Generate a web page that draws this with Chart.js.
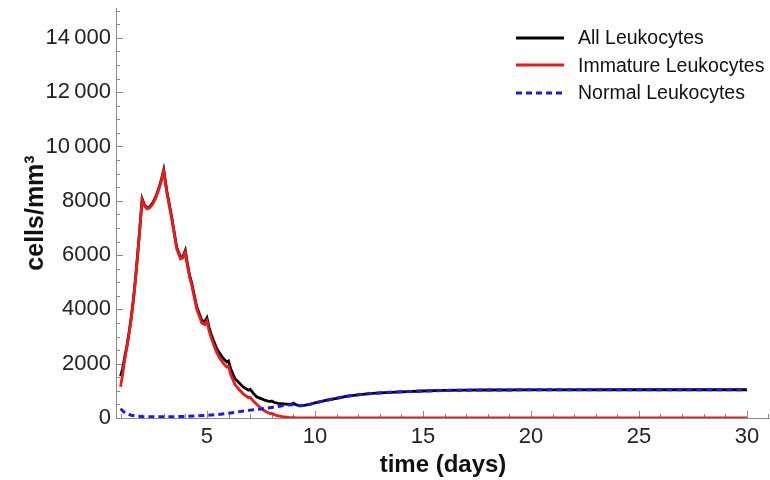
<!DOCTYPE html>
<html>
<head>
<meta charset="utf-8">
<title>Leukocytes</title>
<script src="https://cdn.jsdelivr.net/npm/chart.js@4.4.1/dist/chart.umd.min.js"></script>
<style>
  html, body { margin: 0; padding: 0; background: #fff; }
  #wrap { position: relative; width: 770px; height: 480px; }
  #legend { position: absolute; left: 516px; top: 24px; font: 19.5px "Liberation Sans", Arial, sans-serif; color: #111; }
  #legend .row { display: flex; align-items: center; height: 27.5px; }
  #legend svg { margin-right: 14px; }
</style>
</head>
<body>
<div id="wrap">
  <canvas id="grafico" width="770" height="480"></canvas>
  <div id="legend"></div>
</div>
<script>
// ── datos ───────────────────────────────────────────────
const allDays  = [1.0, 1.1, 1.2, 1.3, 1.4, 1.5, 1.6, 1.7, 1.8, 1.9, 2.0,
                  2.1, 2.23, 2.35, 2.5, 2.65, 2.8, 2.9, 3.0,
                  3.14, 3.37, 3.6, 3.78, 3.9, 4.0,
                  4.1, 4.2, 4.3, 4.53, 4.76, 4.9, 5.0,
                  5.1, 5.2, 5.3, 5.45, 5.6, 5.75, 5.92, 6.0,
                  6.1, 6.3, 6.5, 6.68, 6.92, 7.0,
                  7.15, 7.3, 7.5, 7.7, 7.92, 8.0,
                  8.1, 8.3, 8.6, 8.9, 9.0, 9.1, 9.3]
const allCells = [1540, 1820, 2270, 2680, 3180, 3740, 4400, 5200, 6110, 7070, 8070,
                  7860, 7740, 7780, 7930, 8180, 8530, 8810, 9140,
                  8370, 7390, 6290, 5910, 5960, 6170,
                  5660, 5250, 4950, 4090, 3600, 3550, 3690,
                  3330, 3080, 2860, 2570, 2370, 2200, 2060, 2100,
                  1810, 1450, 1290, 1145, 1025, 1055,
                  905, 780, 715, 645, 605, 625,
                  580, 540, 515, 505, 545, 495, 450]

const immDays  = [1.0, 1.1, 1.2, 1.3, 1.4, 1.5, 1.6, 1.7, 1.8, 1.9, 2.0,
                  2.1, 2.23, 2.35, 2.5, 2.65, 2.8, 2.9, 3.0,
                  3.14, 3.37, 3.6, 3.78, 3.9, 4.0,
                  4.1, 4.2, 4.3, 4.53, 4.76, 4.9, 5.0,
                  5.1, 5.2, 5.3, 5.45, 5.6, 5.75, 5.92, 6.0,
                  6.1, 6.3, 6.5, 6.68, 6.92, 7.0,
                  7.15, 7.3, 7.5, 7.7, 7.92, 8.0,
                  8.2, 8.5, 8.8, 9.2, 9.6, 30]
const immCells = [1150, 1620, 2170, 2630, 3130, 3690, 4350, 5150, 6060, 7020, 8030,
                  7820, 7700, 7740, 7890, 8140, 8490, 8770, 9090,
                  8320, 7340, 6240, 5860, 5900, 6110,
                  5600, 5190, 4880, 4010, 3500, 3440, 3570,
                  3210, 2950, 2730, 2420, 2200, 2020, 1880, 1910,
                  1600, 1230, 1040, 890, 750, 765,
                  625, 505, 365, 250, 160, 165,
                  100, 50, 20, 5, 0, 0]

const normDays  = [1.0, 1.15, 1.3, 1.5, 1.75, 2.0, 2.5, 3.0, 3.5, 4.0, 4.5, 5.0,
                   5.5, 6.0, 6.5, 7.0, 7.5, 8.0, 8.5, 8.9, 9.1, 9.3]
const normCells = [340, 230, 150, 100, 65, 50, 42, 45, 50, 60, 75, 100,
                   130, 175, 235, 290, 330, 390, 450, 490, 485, 450]

// tramo común (todas = normales) tras el día 9.3
const tailDays  = [9.5, 9.8, 10, 10.5, 11, 11.5, 12, 12.5, 13, 14, 15, 16, 17, 18, 20, 25, 30]
const tailCells = [465, 510, 555, 645, 725, 805, 855, 895, 925, 965, 995, 1015, 1025, 1032, 1038, 1040, 1040]

// ── ejes ────────────────────────────────────────────────
const X_MIN = 0.79, X_MAX = 31.07
const Y_MIN = 0,    Y_MAX = 15100
const xTickValues = [5, 10, 15, 20, 25, 30]
const xTickLabels = ['5', '10', '15', '20', '25', '30']
const yTickValues = [0, 2000, 4000, 6000, 8000, 10000, 12000, 14000]
const yTickLabels = ['0', '2000', '4000', '6000', '8000', '10\u2009000', '12\u2009000', '14\u2009000']
const X_MINOR = 1
const Y_MINOR = 500

const toPoints = (xs, ys) => xs.map((x, i) => ({ x, y: ys[i] }))

const series = [
    { label: 'All Leukocytes',      data: toPoints(allDays.concat(tailDays), allCells.concat(tailCells)), color: '#000000', width: 2.8, dash: [],     order: 2 },
    { label: 'Immature Leukocytes', data: toPoints(immDays, immCells), color: '#ee1a1a', width: 2.8, dash: [],     order: 1 },
    { label: 'Normal Leukocytes',   data: toPoints(normDays.concat(tailDays), normCells.concat(tailCells)), color: '#1a1af0', width: 3, dash: [6, 4], order: 0 }
]

const FONT = '"Liberation Sans", Arial, sans-serif'

// marcas de eje hacia dentro, mayores y menores
const innerTicks = {
    id: 'innerTicks',
    beforeDatasetsDraw(chart) {
        const { ctx, chartArea: a, scales: { x, y } } = chart
        ctx.save()
        ctx.strokeStyle = '#8a8a8a'
        ctx.lineWidth = 1
        ctx.beginPath()
        for (let d = Math.ceil(x.min); d <= x.max; d += X_MINOR) {
            const px = Math.round(x.getPixelForValue(d)) + 0.5
            const len = xTickValues.includes(d) ? 7 : 4
            ctx.moveTo(px, a.bottom)
            ctx.lineTo(px, a.bottom - len)
        }
        for (let v = Y_MIN; v <= y.max; v += Y_MINOR) {
            const py = Math.round(y.getPixelForValue(v)) + 0.5
            const len = yTickValues.includes(v) ? 7 : 4
            ctx.moveTo(a.left, py)
            ctx.lineTo(a.left + len, py)
        }
        ctx.stroke()
        ctx.restore()
    }
}

const chart = new Chart(document.getElementById('grafico').getContext('2d'), {
    type: 'line',
    data: {
        datasets: series.map(s => ({
            label: s.label, data: s.data, borderColor: s.color, backgroundColor: s.color,
            borderWidth: s.width, borderDash: s.dash, order: s.order,
            pointRadius: 0, tension: 0, fill: false
        }))
    },
    options: {
        responsive: false,
        animation: false,
        events: [],
        layout: { padding: { top: 8, right: 0, bottom: 0, left: 0 } },
        plugins: { legend: { display: false }, tooltip: { enabled: false } },
        scales: {
            x: {
                type: 'linear', min: X_MIN, max: X_MAX,
                grid: { display: false, drawTicks: false },
                border: { display: true, color: '#8a8a8a', width: 1 },
                afterBuildTicks: s => { s.ticks = xTickValues.map(v => ({ value: v })) },
                afterFit: s => { s.height = 62; s.paddingLeft = 0; s.paddingRight = 0 },
                ticks: {
                    autoSkip: false, maxRotation: 0, padding: 6, color: '#222',
                    font: { family: FONT, size: 22 },
                    callback: v => xTickLabels[xTickValues.indexOf(v)]
                },
                title: {
                    display: true, text: 'time (days)', color: '#111',
                    font: { family: FONT, size: 24, weight: 'bold' },
                    padding: { top: 0, bottom: 0 }
                }
            },
            y: {
                type: 'linear', min: Y_MIN, max: Y_MAX,
                grid: { display: false, drawTicks: false },
                border: { display: true, color: '#8a8a8a', width: 1 },
                afterBuildTicks: s => { s.ticks = yTickValues.map(v => ({ value: v })) },
                afterFit: s => { s.width = 116; s.paddingTop = 0; s.paddingBottom = 0 },
                ticks: {
                    padding: 5, color: '#222',
                    font: { family: FONT, size: 22 },
                    callback: v => yTickLabels[yTickValues.indexOf(v)]
                },
                title: {
                    display: true, text: 'cells/mm³', color: '#111',
                    font: { family: FONT, size: 25, weight: 'bold' },
                    padding: { top: 21, bottom: 0 }
                }
            }
        }
    },
    plugins: [innerTicks]
})

// leyenda en HTML con la muestra de línea de cada serie
const legend = document.getElementById('legend')
series.forEach(s => {
    const row = document.createElement('div')
    row.className = 'row'
    row.innerHTML = `<svg width="48" height="6"><line x1="0" y1="3" x2="48" y2="3" stroke="${s.color}" stroke-width="${s.width}" stroke-dasharray="${s.dash.join(' ') || 'none'}"/></svg><span>${s.label}</span>`
    legend.appendChild(row)
})
</script>
</body>
</html>
